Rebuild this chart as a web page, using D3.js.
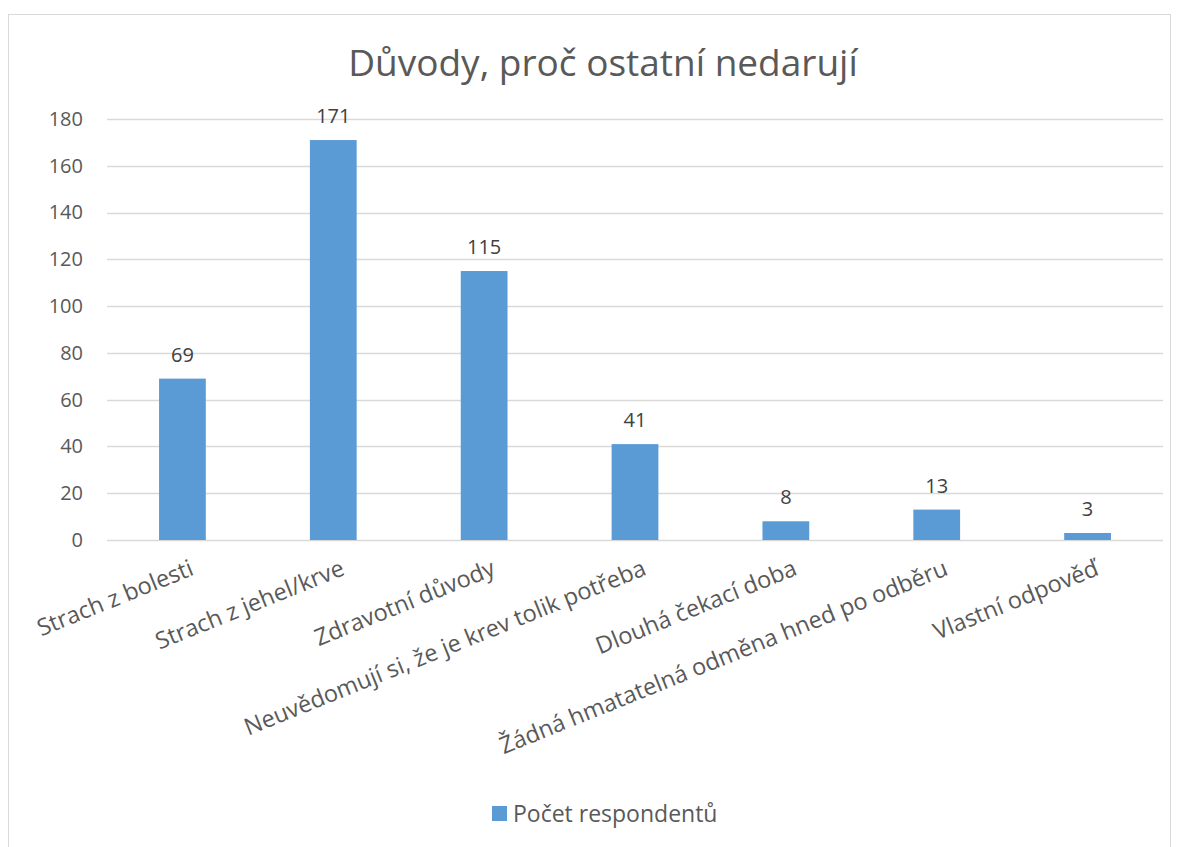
<!DOCTYPE html>
<html lang="cs">
<head>
<meta charset="utf-8">
<script src="https://cdn.jsdelivr.net/npm/d3@7"></script>
<style>
  html, body { margin: 0; padding: 0; background: #fff; }
  svg { display: block; font-family: "Open Sans", "Noto Sans", sans-serif; }
</style>
</head>
<body>
<svg id="chart" width="1181" height="847"></svg>
<script>
// Reasons why others do not donate blood – number of respondents
const categories = [
  "Strach z bolesti",
  "Strach z jehel/krve",
  "Zdravotní důvody",
  "Neuvědomují si, že je krev tolik potřeba",
  "Dlouhá čekací doba",
  "Žádná hmatatelná odměna hned po odběru",
  "Vlastní odpověď"
];
const values = [69, 171, 115, 41, 8, 13, 3];
const yTicks = [0, 20, 40, 60, 80, 100, 120, 140, 160, 180];
const title = "Důvody, proč ostatní nedarují";
const seriesName = "Počet respondentů";

const svg = d3.select("#chart");
const plot = { left: 107, right: 1163, top: 119, bottom: 540 };
const textColor = "#595959";
const gridColor = "#D9D9D9";
const barColor = "#5B9BD5";

// chart frame
svg.append("rect")
  .attr("x", 8.5).attr("y", 14.5)
  .attr("width", 1162).attr("height", 850)
  .attr("fill", "#fff").attr("stroke", gridColor).attr("stroke-width", 1);

const x = d3.scaleBand().domain(categories).range([plot.left, plot.right]).padding(0);
const y = d3.scaleLinear().domain([0, 180]).range([plot.bottom, plot.top]);
const barW = x.bandwidth() * 0.31;

// gridlines
svg.append("g").selectAll("line").data(yTicks).join("line")
  .attr("x1", plot.left).attr("x2", plot.right)
  .attr("y1", d => Math.round(y(d)) + 0.5).attr("y2", d => Math.round(y(d)) + 0.5)
  .attr("stroke", gridColor).attr("stroke-width", 1.3);

// y axis labels
const yAxis = d3.axisLeft(y).tickValues(yTicks).tickSize(0).tickPadding(0);
const yg = svg.append("g").attr("transform", `translate(${plot.left - 24},0)`).call(yAxis);
yg.select(".domain").remove();
yg.selectAll("text")
  .attr("fill", textColor).attr("font-size", 20)
  .attr("font-family", "'Open Sans', sans-serif");

// bars
svg.append("g").selectAll("rect").data(values).join("rect")
  .attr("x", (d, i) => x(categories[i]) + (x.bandwidth() - barW) / 2)
  .attr("y", d => y(d))
  .attr("width", barW)
  .attr("height", d => y(0) - y(d))
  .attr("fill", barColor);

// value labels
svg.append("g").selectAll("text").data(values).join("text")
  .attr("x", (d, i) => x(categories[i]) + x.bandwidth() / 2)
  .attr("y", d => y(d) - 17)
  .attr("text-anchor", "middle")
  .attr("fill", "#404040")
  .attr("font-size", 20)
  .text(d => d);

// category labels, rotated
svg.append("g").selectAll("text").data(categories).join("text")
  .attr("transform", d => `translate(${x(d) + x.bandwidth() / 2 + 6},${plot.bottom + 18}) rotate(-22)`)
  .attr("text-anchor", "end")
  .attr("dy", "0.75em")
  .attr("fill", textColor)
  .attr("font-size", 23.5)
  .text(d => d);

// title
svg.append("text")
  .attr("x", 603).attr("y", 76)
  .attr("text-anchor", "middle")
  .attr("fill", textColor)
  .attr("font-size", 37)
  .text(title);

// legend
const lg = svg.append("g").attr("transform", "translate(492,806)");
lg.append("rect").attr("width", 15).attr("height", 15).attr("fill", barColor);
lg.append("text").attr("x", 21).attr("y", 15.5)
  .attr("fill", textColor).attr("font-size", 23)
  .text(seriesName);
</script>
</body>
</html>
